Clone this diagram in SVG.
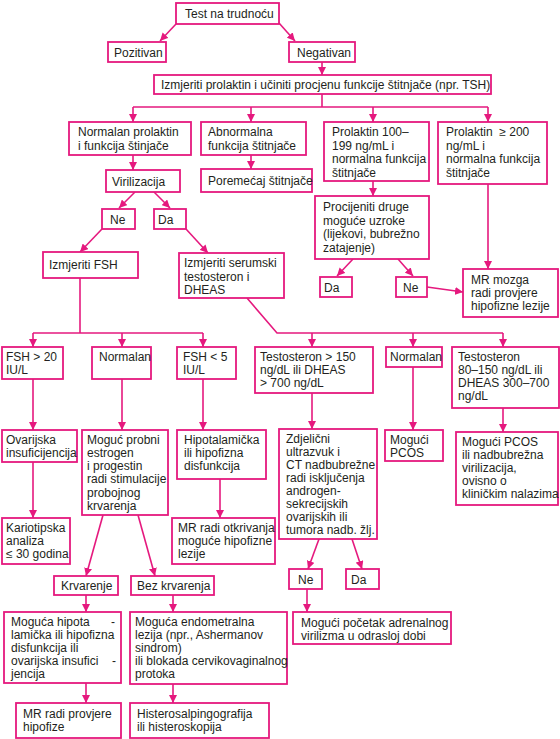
<svg xmlns="http://www.w3.org/2000/svg" width="560" height="739" viewBox="0 0 560 739">
<style>
.b{fill:#fff;stroke:#e5197e;stroke-width:1.8}
.c line,.c polyline{stroke:#e5197e;stroke-width:1.6;fill:none}
.a{marker-end:url(#ah)}
text{font-family:"Liberation Sans",Arial,sans-serif;font-size:12px;fill:#231f20}
</style>
<defs>
<marker id="ah" markerUnits="userSpaceOnUse" markerWidth="9" markerHeight="8" refX="8" refY="4" orient="auto">
<path d="M0,0 L8,4 L0,8 z" fill="#e5197e"/>
</marker>
</defs>
<rect width="560" height="739" fill="#fff"/>
<g class="c" id="connectors">
<line class="a" x1="176" y1="24" x2="160" y2="41"/>
<line class="a" x1="279" y1="23" x2="295" y2="41"/>
<line class="a" x1="322" y1="62" x2="322" y2="75"/>
<line x1="322" y1="94" x2="322" y2="107"/>
<line x1="133" y1="107" x2="488" y2="107"/>
<line class="a" x1="133" y1="107" x2="133" y2="122"/>
<line class="a" x1="251" y1="107" x2="251" y2="122"/>
<line class="a" x1="373" y1="107" x2="373" y2="122"/>
<line class="a" x1="488" y1="107" x2="488" y2="122"/>
<line class="a" x1="133" y1="155" x2="133" y2="170"/>
<line class="a" x1="251" y1="155" x2="251" y2="169"/>
<line class="a" x1="373" y1="181" x2="373" y2="196"/>
<line class="a" x1="488" y1="184" x2="488" y2="269"/>
<line class="a" x1="135" y1="192" x2="119" y2="208"/>
<line class="a" x1="154" y1="192" x2="170" y2="208"/>
<line class="a" x1="102" y1="229" x2="80" y2="252"/>
<line class="a" x1="186" y1="229" x2="208" y2="253"/>
<line x1="80" y1="278" x2="80" y2="333"/>
<line x1="33" y1="333" x2="203" y2="333"/>
<line class="a" x1="33" y1="333" x2="33" y2="347"/>
<line class="a" x1="122" y1="333" x2="122" y2="347"/>
<line class="a" x1="203" y1="333" x2="203" y2="347"/>
<polyline points="247,298 277,333 503,333"/>
<line class="a" x1="312" y1="333" x2="312" y2="347"/>
<line class="a" x1="413" y1="333" x2="413" y2="347"/>
<line class="a" x1="503" y1="333" x2="503" y2="347"/>
<line class="a" x1="353" y1="259" x2="337" y2="276"/>
<line class="a" x1="398" y1="259" x2="413" y2="276"/>
<line class="a" x1="427" y1="287" x2="463" y2="292"/>
<line class="a" x1="33" y1="379" x2="33" y2="430"/>
<line class="a" x1="122" y1="379" x2="122" y2="430"/>
<line class="a" x1="203" y1="379" x2="203" y2="430"/>
<line class="a" x1="312" y1="393" x2="312" y2="429"/>
<line class="a" x1="413" y1="367" x2="413" y2="430"/>
<line class="a" x1="503" y1="408" x2="503" y2="432"/>
<line class="a" x1="33" y1="462" x2="33" y2="518"/>
<line class="a" x1="220" y1="479" x2="220" y2="518"/>
<line class="a" x1="103" y1="515" x2="86" y2="576"/>
<line class="a" x1="138" y1="515" x2="155" y2="576"/>
<line class="a" x1="319" y1="539" x2="308" y2="569"/>
<line class="a" x1="352" y1="539" x2="362" y2="569"/>
<line class="a" x1="307" y1="589" x2="307" y2="612"/>
<line class="a" x1="86" y1="595" x2="86" y2="612"/>
<line class="a" x1="173" y1="595" x2="173" y2="612"/>
<line class="a" x1="86" y1="683" x2="86" y2="703"/>
<line class="a" x1="173" y1="684" x2="173" y2="703"/>
</g>
<g id="n-test"><rect class="b" x="176" y="3" width="103" height="21"/><text x="185" y="18">Test na trudnoću</text></g>
<g id="n-pozitivan"><rect class="b" x="108" y="42" width="58" height="20"/><text x="114" y="56.5">Pozitivan</text></g>
<g id="n-negativan"><rect class="b" x="289" y="42" width="66" height="20"/><text x="297" y="56.5">Negativan</text></g>
<g id="n-izmjeriti"><rect class="b" x="154" y="75" width="337" height="19"/><text x="161" y="89">Izmjeriti prolaktin i učiniti procjenu funkcije štitnjače (npr. TSH)</text></g>
<g id="n-normalan-prl"><rect class="b" x="69" y="122" width="122" height="33"/><text x="78" y="136">Normalan prolaktin</text><text x="78" y="149.5">i funkcija štinjače</text></g>
<g id="n-abnormalna"><rect class="b" x="201" y="122" width="105" height="33"/><text x="208" y="136">Abnormalna</text><text x="208" y="149.5">funkcija štitnjače</text></g>
<g id="n-prl100"><rect class="b" x="324" y="122" width="105" height="59"/><text x="332" y="136">Prolaktin 100–</text><text x="332" y="149.5">199 ng/mL i</text><text x="332" y="163">normalna funkcija</text><text x="332" y="176.5">štitnjače</text></g>
<g id="n-prl200"><rect class="b" x="438" y="122" width="109" height="62"/><text x="446" y="136">Prolaktin&#160; ≥ 200</text><text x="446" y="149.5">ng/mL i</text><text x="446" y="163">normalna funkcija</text><text x="446" y="176.5">štitnjače</text></g>
<g id="n-virilizacija"><rect class="b" x="106" y="170" width="74" height="22"/><text x="112" y="185.5">Virilizacija</text></g>
<g id="n-poremecaj"><rect class="b" x="201" y="169" width="111" height="23"/><text x="208" y="185">Poremećaj štitnjače</text></g>
<g id="n-procijeniti"><rect class="b" x="315" y="196" width="114" height="63"/><text x="323" y="211">Procijeniti druge</text><text x="323" y="224.5">moguće uzroke</text><text x="323" y="238">(lijekovi, bubrežno</text><text x="323" y="251.5">zatajenje)</text></g>
<g id="n-ne1"><rect class="b" x="102" y="209" width="33" height="20"/><text x="110" y="223.5">Ne</text></g>
<g id="n-da1"><rect class="b" x="154" y="209" width="32" height="20"/><text x="158" y="223.5">Da</text></g>
<g id="n-fsh"><rect class="b" x="43" y="252" width="95" height="26"/><text x="49" y="269">Izmjeriti FSH</text></g>
<g id="n-serumski"><rect class="b" x="179" y="253" width="105" height="45"/><text x="184" y="267">Izmjeriti serumski</text><text x="184" y="280.5">testosteron i</text><text x="184" y="294">DHEAS</text></g>
<g id="n-da2"><rect class="b" x="320" y="277" width="32" height="20"/><text x="324" y="291.5">Da</text></g>
<g id="n-ne2"><rect class="b" x="396" y="277" width="31" height="20"/><text x="403" y="291.5">Ne</text></g>
<g id="n-mrmozga"><rect class="b" x="463" y="269" width="95" height="48"/><text x="471" y="283.5">MR mozga</text><text x="471" y="296.5">radi provjere</text><text x="471" y="309.5">hipofizne lezije</text></g>
<g id="n-fsh20"><rect class="b" x="2" y="347" width="61" height="32"/><text x="6" y="361">FSH &gt; 20</text><text x="6" y="374">IU/L</text></g>
<g id="n-normalan1"><rect class="b" x="92" y="347" width="59" height="32"/><text x="99" y="361">Normalan</text></g>
<g id="n-fsh5"><rect class="b" x="177" y="347" width="59" height="32"/><text x="183" y="361">FSH &lt; 5</text><text x="183" y="374">IU/L</text></g>
<g id="n-t150"><rect class="b" x="255" y="347" width="118" height="46"/><text x="260" y="361">Testosteron &gt; 150</text><text x="260" y="374">ng/dL ili DHEAS</text><text x="260" y="387">&gt; 700 ng/dL</text></g>
<g id="n-normalan2"><rect class="b" x="386" y="347" width="56" height="20"/><text x="390" y="361">Normalan</text></g>
<g id="n-t80"><rect class="b" x="452" y="347" width="107" height="61"/><text x="458" y="361">Testosteron</text><text x="458" y="374">80–150 ng/dL ili</text><text x="458" y="387">DHEAS 300–700</text><text x="458" y="400">ng/dL</text></g>
<g id="n-ovarijska"><rect class="b" x="2" y="430" width="75" height="32"/><text x="6" y="443.5">Ovarijska</text><text x="6" y="457">insuficijencija</text></g>
<g id="n-probni"><rect class="b" x="82" y="430" width="86" height="85"/><text x="87" y="443.5">Moguć probni</text><text x="87" y="456.7">estrogen</text><text x="87" y="470">i progestin</text><text x="87" y="483.2">radi stimulacije</text><text x="87" y="496.5">probojnog</text><text x="87" y="509.7">krvarenja</text></g>
<g id="n-hipot"><rect class="b" x="177" y="430" width="89" height="49"/><text x="184" y="443.5">Hipotalamička</text><text x="184" y="456.7">ili hipofizna</text><text x="184" y="470">disfunkcija</text></g>
<g id="n-zdjelicni"><rect class="b" x="279" y="429" width="98" height="110"/><text x="286" y="443">Zdjelični</text><text x="286" y="456">ultrazvuk i</text><text x="286" y="469">CT nadbubrežne</text><text x="286" y="482">radi isključenja</text><text x="286" y="495">androgen-</text><text x="286" y="508">sekrecijskih</text><text x="286" y="521">ovarijskih ili</text><text x="286" y="534">tumora nadb. žlj.</text></g>
<g id="n-pcos"><rect class="b" x="385" y="430" width="58" height="31"/><text x="390" y="443.5">Mogući</text><text x="390" y="456.5">PCOS</text></g>
<g id="n-pcos2"><rect class="b" x="456" y="432" width="102" height="73"/><text x="462" y="445.5">Mogući PCOS</text><text x="462" y="458.5">ili nadbubrežna</text><text x="462" y="471.5">virilizacija,</text><text x="462" y="484.5">ovisno o</text><text x="462" y="497.5">kliničkim nalazima</text></g>
<g id="n-kariotip"><rect class="b" x="2" y="518" width="68" height="46"/><text x="6" y="532">Kariotipska</text><text x="6" y="545">analiza</text><text x="6" y="558">≤ 30 godina</text></g>
<g id="n-mrotkr"><rect class="b" x="172" y="518" width="103" height="46"/><text x="178" y="532">MR radi otkrivanja</text><text x="178" y="545">moguće hipofizne</text><text x="178" y="558">lezije</text></g>
<g id="n-ne3"><rect class="b" x="289" y="569" width="33" height="20"/><text x="298" y="583.5">Ne</text></g>
<g id="n-da3"><rect class="b" x="346" y="569" width="33" height="20"/><text x="351" y="583.5">Da</text></g>
<g id="n-krvarenje"><rect class="b" x="54" y="576" width="64" height="19"/><text x="61" y="590">Krvarenje</text></g>
<g id="n-bezkrv"><rect class="b" x="131" y="576" width="83" height="19"/><text x="137" y="590">Bez krvarenja</text></g>
<g id="n-adrenal"><rect class="b" x="293" y="612" width="158" height="32"/><text x="301" y="626.5">Mogući početak adrenalnog</text><text x="301" y="639.5">virilizma u odrasloj dobi</text></g>
<g id="n-hipota"><rect class="b" x="4" y="612" width="117" height="71"/><text x="11" y="626">Moguća hipota<tspan x="111">-</tspan></text><text x="11" y="639">lamička ili hipofizna</text><text x="11" y="652">disfunkcija ili</text><text x="11" y="665">ovarijska insufici<tspan x="112">-</tspan></text><text x="11" y="678">jencija</text></g>
<g id="n-endometr"><rect class="b" x="130" y="612" width="157" height="72"/><text x="135" y="626">Moguća endometralna</text><text x="135" y="639">lezija (npr., Ashermanov</text><text x="135" y="652">sindrom)</text><text x="135" y="665">ili blokada cervikovaginalnog</text><text x="135" y="678">protoka</text></g>
<g id="n-mrhipofize"><rect class="b" x="16" y="703" width="105" height="35"/><text x="23" y="717.5">MR radi provjere</text><text x="23" y="730.5">hipofize</text></g>
<g id="n-hsg"><rect class="b" x="130" y="703" width="139" height="35"/><text x="137" y="717.5">Histerosalpingografija</text><text x="137" y="730.5">ili histeroskopija</text></g>
</svg>
